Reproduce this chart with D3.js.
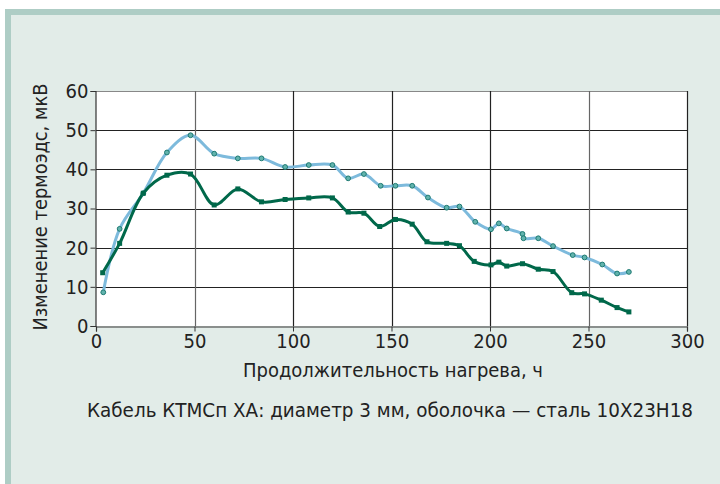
<!DOCTYPE html>
<html>
<head>
<meta charset="utf-8">
<script src="https://cdn.jsdelivr.net/npm/d3@7"></script>
<style>
  html, body { margin: 0; padding: 0; background: #fff; }
  text { font-family: "Liberation Sans Narrow", "DejaVu Sans Condensed", "Noto Sans", sans-serif; fill: #222; }
</style>
</head>
<body>
<div id="chart"></div>
<script>
// data
var xTicks = [0, 50, 100, 150, 200, 250, 300];
var yTicks = [0, 10, 20, 30, 40, 50, 60];

var hoursA = [3.7, 12, 24, 36, 48, 60, 72, 84, 96, 108, 120, 128, 136, 144.5, 152, 160.5, 168.5, 178, 184.5, 192.5, 200.5, 204.5, 208.5, 216.5, 217, 224.5, 232, 242, 248, 257, 264.5, 270.5];
var valuesA = [8.6, 24.8, 33.9, 44.3, 48.7, 44.0, 42.8, 42.8, 40.6, 41.1, 41.1, 37.7, 38.8, 35.8, 35.8, 35.8, 32.8, 30.2, 30.5, 26.6, 24.7, 26.2, 24.9, 23.5, 22.4, 22.4, 20.4, 18.1, 17.5, 15.7, 13.4, 13.8];

var hoursB = [3.4, 12, 24, 36, 48, 60, 72, 84, 96, 108, 120, 128, 136, 144, 152, 160.5, 168, 178, 184.5, 192, 200.5, 204.5, 208.5, 216.5, 224.5, 232, 241.5, 248, 256.5, 264.5, 270.5];
var valuesB = [13.6, 21.1, 33.9, 38.5, 38.8, 30.9, 35.0, 31.7, 32.3, 32.7, 32.7, 29.1, 28.8, 25.4, 27.2, 26.0, 21.5, 21.1, 20.5, 16.5, 15.6, 16.3, 15.3, 15.9, 14.5, 13.9, 8.5, 8.2, 6.6, 4.7, 3.6];

var xTitle = "Продолжительность нагрева, ч";
var yTitle = "Изменение термоэдс, мкВ";
var caption = "Кабель КТМСп ХА: диаметр 3 мм, оболочка — сталь 10Х23Н18";

var width = 720, height = 484;
var svg = d3.select("#chart").append("svg")
    .attr("width", width)
    .attr("height", height);

// panel background, thick light border on top and left
svg.append("rect").attr("x", 5).attr("y", 9).attr("width", width).attr("height", height).attr("fill", "#aecdc5");
svg.append("rect").attr("x", 11).attr("y", 15).attr("width", width).attr("height", height).attr("fill", "#e2ece8");

var plot = { left: 96, top: 91, right: 687, bottom: 326 };

var x = d3.scaleLinear().domain([0, 300]).range([plot.left, plot.right]);
var y = d3.scaleLinear().domain([0, 60]).range([plot.bottom, plot.top]);

svg.append("rect")
    .attr("x", plot.left).attr("y", plot.top)
    .attr("width", plot.right - plot.left).attr("height", plot.bottom - plot.top)
    .attr("fill", "#fff");

// grid
var g = svg.append("g");
g.selectAll("line.h").data(yTicks.slice(1)).enter().append("line")
    .attr("x1", plot.left).attr("x2", plot.right)
    .attr("y1", function(d) { return Math.round(y(d)) + 0.5; })
    .attr("y2", function(d) { return Math.round(y(d)) + 0.5; })
    .attr("stroke", function(d) { return d == 60 ? "#888" : "#222"; })
    .attr("stroke-width", 1.2);
g.selectAll("line.v").data(xTicks.slice(1)).enter().append("line")
    .attr("y1", plot.top).attr("y2", plot.bottom)
    .attr("x1", function(d) { return Math.round(x(d)) + 0.5; })
    .attr("x2", function(d) { return Math.round(x(d)) + 0.5; })
    .attr("stroke", function(d) { return (d == 50 || d == 250) ? "#666" : "#222"; })
    .attr("stroke-width", 1.2);

// axes
var xAxis = svg.append("g")
    .attr("transform", "translate(0," + (plot.bottom + 0.5) + ")")
    .call(d3.axisBottom(x).tickValues(xTicks).tickSize(5).tickPadding(2));
var yAxis = svg.append("g")
    .attr("transform", "translate(" + (plot.left - 0.5) + ",0)")
    .call(d3.axisLeft(y).tickValues(yTicks).tickSize(5).tickPadding(2));
[xAxis, yAxis].forEach(function(a) {
    a.select(".domain").attr("stroke", "#333").attr("stroke-width", 1.2);
    a.selectAll(".tick line").attr("stroke", "#333");
    a.selectAll(".tick text").attr("font-size", "20px").attr("fill", "#222")
        .attr("font-family", null);
});

// lines
var line = d3.line()
    .x(function(d) { return x(d[0]); })
    .y(function(d) { return y(d[1]); })
    .curve(d3.curveCatmullRom.alpha(0.5));
var ptsA = hoursA.map(function(h, i) { return [h, valuesA[i]]; });
var ptsB = hoursB.map(function(h, i) { return [h, valuesB[i]]; });

svg.append("path").attr("d", line(ptsA))
    .attr("fill", "none").attr("stroke", "#7dbadc").attr("stroke-width", 3);
svg.append("path").attr("d", line(ptsB))
    .attr("fill", "none").attr("stroke", "#00684a").attr("stroke-width", 3);

svg.append("g").selectAll("circle").data(ptsA).enter().append("circle")
    .attr("cx", function(d) { return x(d[0]); })
    .attr("cy", function(d) { return y(d[1]); })
    .attr("r", 2.4)
    .attr("fill", "#62b3ad").attr("stroke", "#1d7a72").attr("stroke-width", 1);
svg.append("g").selectAll("rect").data(ptsB).enter().append("rect")
    .attr("x", function(d) { return x(d[0]) - 2.5; })
    .attr("y", function(d) { return y(d[1]) - 2.5; })
    .attr("width", 5).attr("height", 5)
    .attr("fill", "#00684a");

// titles
svg.append("text")
    .attr("x", 393).attr("y", 377)
    .attr("text-anchor", "middle")
    .attr("font-size", "20px")
    .attr("textLength", 300).attr("lengthAdjust", "spacingAndGlyphs")
    .text(xTitle);
svg.append("text")
    .attr("transform", "translate(47,207) rotate(-90)")
    .attr("text-anchor", "middle")
    .attr("font-size", "20px")
    .attr("textLength", 247).attr("lengthAdjust", "spacingAndGlyphs")
    .text(yTitle);
svg.append("text")
    .attr("x", 390).attr("y", 417)
    .attr("text-anchor", "middle")
    .attr("font-size", "19px")
    .attr("textLength", 606).attr("lengthAdjust", "spacingAndGlyphs")
    .text(caption);
</script>
</body>
</html>
